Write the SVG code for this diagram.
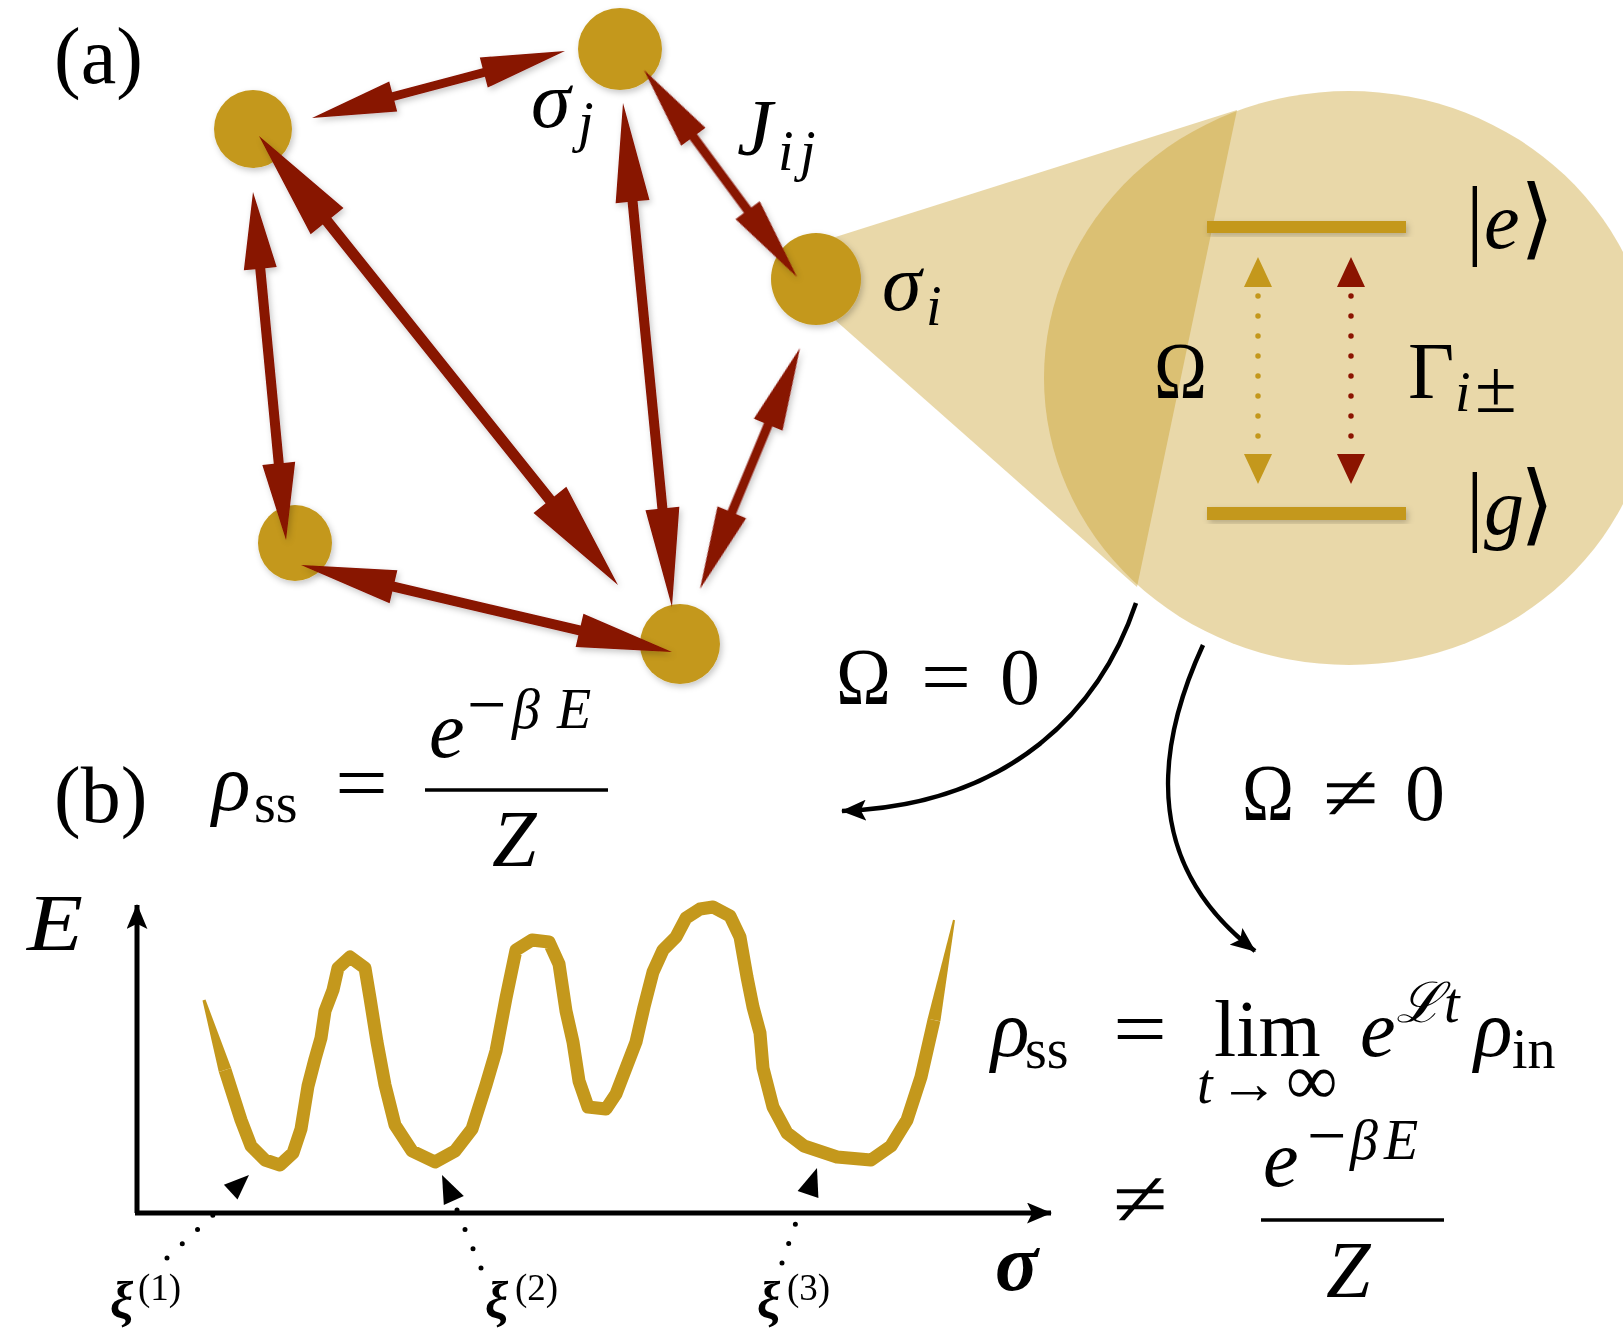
<svg xmlns="http://www.w3.org/2000/svg" width="1623" height="1333" viewBox="0 0 1623 1333">
<defs>
<style>
.t{font-family:"Liberation Serif","Times New Roman","DejaVu Serif",serif;font-size:80px;fill:#000}
.it{font-style:italic}
.sub{font-size:56px}
.bi{font-weight:bold;font-style:italic}
.node{fill:#C4981C}
.arrow{fill:#881200}
.gold{fill:#C4981C}
.line{stroke:#000;fill:none}
</style>
<filter id="sh" x="-30%" y="-30%" width="160%" height="160%">
<feDropShadow dx="2" dy="3" stdDeviation="3" flood-color="#000" flood-opacity="0.22"/>
</filter>
<marker id="ah" viewBox="0 0 24 20" markerWidth="25" markerHeight="21" refX="23" refY="10" orient="auto" markerUnits="userSpaceOnUse">
<path d="M0,0 L24,10 L0,20 L5,10 z" fill="#000"/>
</marker>
</defs>
<rect width="1623" height="1333" fill="#fff"/>

<!-- zoom cone and circle -->
<g id="zoom">
<polygon points="826,240 1237,110 1137,587 826,312" fill="#C4981C" fill-opacity="0.38"/>
<ellipse cx="1349" cy="378" rx="305" ry="287" fill="#C4981C" fill-opacity="0.38"/>
</g>

<!-- nodes -->
<g id="node-1" filter="url(#sh)"><ellipse class="node" cx="253" cy="129" rx="39" ry="39"/></g>
<g id="node-j" filter="url(#sh)"><ellipse class="node" cx="620" cy="49" rx="42" ry="41"/></g>
<g id="node-i" filter="url(#sh)"><ellipse class="node" cx="816" cy="279" rx="45" ry="46"/></g>
<g id="node-4" filter="url(#sh)"><ellipse class="node" cx="295" cy="543" rx="37" ry="38"/></g>
<g id="node-5" filter="url(#sh)"><ellipse class="node" cx="680" cy="644" rx="40" ry="40"/></g>

<!-- connectors -->
<g id="connectors" filter="url(#sh)">
<polygon class="arrow" transform="translate(312,118) rotate(-14.83)" points="0,0 84,-15.5 84,-4.5 177.7,-4.5 177.7,-15.5 261.7,0 177.7,15.5 177.7,4.5 84,4.5 84,15.5"/>
<polygon class="arrow" transform="translate(259,136) rotate(51.36)" points="0,0 109,-21 109,-5.5 465.9,-5.5 465.9,-21 574.9,0 465.9,21 465.9,5.5 109,5.5 109,21"/>
<polygon class="arrow" transform="translate(253,192) rotate(84.58)" points="0,0 77,-16.5 77,-5 272.6,-5 272.6,-16.5 349.6,0 272.6,16.5 272.6,5 77,5 77,16.5"/>
<polygon class="arrow" transform="translate(301,565) rotate(13.2)" points="0,0 95,-17 95,-5 286.1,-5 286.1,-17 381.1,0 286.1,17 286.1,5 95,5 95,17"/>
<polygon class="arrow" transform="translate(623,103) rotate(84.45)" points="0,0 99,-17 99,-5 407.4,-5 407.4,-17 506.4,0 407.4,17 407.4,5 99,5 99,17"/>
<polygon class="arrow" transform="translate(644,70) rotate(53.53)" points="0,0 83,-15 83,-4.5 174.4,-4.5 174.4,-15 257.4,0 174.4,15 174.4,4.5 83,4.5 83,15"/>
<polygon class="arrow" transform="translate(800,348) rotate(112.53)" points="0,0 83,-15.5 83,-4.5 177.9,-4.5 177.9,-15.5 260.9,0 177.9,15.5 177.9,4.5 83,4.5 83,15.5"/>
</g>

<!-- node labels -->
<g id="labels-a">
<text class="t" x="54" y="83">(a)</text>
<text class="t it" x="531" y="127">σ</text><text class="t it sub" x="578" y="141">j</text>
<text class="t it" x="737" y="155">J</text><text class="t it sub" x="778" y="170">i</text><text class="t it sub" x="800" y="170">j</text>
<text class="t it" x="882" y="310">σ</text><text class="t it sub" x="926" y="325">i</text>
</g>

<!-- two-level system -->
<g id="levels">
<rect class="gold" x="1207" y="221" width="199" height="12" filter="url(#sh)"/>
<rect class="gold" x="1207" y="507" width="199" height="13" filter="url(#sh)"/>
<g id="omega-arrow">
<polygon class="gold" points="1258,257 1244,287 1272,287"/>
<polygon class="gold" points="1258,484 1244,454 1272,454"/>
<line x1="1258" y1="296" x2="1258" y2="437" stroke="#C4981C" stroke-width="5.5" stroke-linecap="round" stroke-dasharray="0 20"/>
</g>
<g id="gamma-arrow">
<polygon fill="#8B1400" points="1351,257 1337,287 1365,287"/>
<polygon fill="#8B1400" points="1351,484 1337,454 1365,454"/>
<line x1="1351" y1="296" x2="1351" y2="437" stroke="#8B1400" stroke-width="5.5" stroke-linecap="round" stroke-dasharray="0 20"/>
</g>
<text class="t" x="1154" y="398" textLength="53" lengthAdjust="spacingAndGlyphs">Ω</text>
<text class="t" x="1408" y="398">Γ</text><text class="t it sub" x="1455" y="411">i</text><text class="t" x="1475" y="412" style="font-size:76px">±</text>
<text class="t" x="1466" y="248" style="font-size:88px">|</text><text class="t it" x="1484" y="248">e</text><text class="t" x="1520" y="248" style="font-size:88px">⟩</text>
<text class="t" x="1466" y="534" style="font-size:88px">|</text><text class="t it" x="1484" y="534">g</text><text class="t" x="1520" y="534" style="font-size:88px">⟩</text>
</g>

<!-- curved arrows -->
<g id="flow-arrows">
<path class="line" style="stroke-width:4.5px" d="M1136,603 C1100,710 1010,805 842,811" marker-end="url(#ah)"/>
<path class="line" style="stroke-width:4.5px" d="M1203,645 C1150,760 1150,870 1255,951" marker-end="url(#ah)"/>
</g>
<g id="cond-labels">
<text class="t" x="836" y="704" textLength="55" lengthAdjust="spacingAndGlyphs">Ω</text><text class="t" x="921" y="704" textLength="50" lengthAdjust="spacingAndGlyphs">=</text><text class="t" x="1000" y="704">0</text>
<text class="t" x="1242" y="820" textLength="52" lengthAdjust="spacingAndGlyphs">Ω</text><text class="t" x="1323" y="820" textLength="56" lengthAdjust="spacingAndGlyphs">≠</text><text class="t" x="1405" y="820">0</text>
</g>

<!-- (b) equation -->
<g id="eq-b">
<text class="t" x="54" y="822">(b)</text>
<text class="t it" x="212" y="810">ρ</text><text class="t sub" x="254" y="822">ss</text>
<text class="t" x="335" y="810" textLength="53" lengthAdjust="spacingAndGlyphs">=</text>
<text class="t it" x="429" y="757">e</text>
<text class="t" x="467" y="728" style="font-size:70px">−</text><text class="t it sub" x="512" y="728">β</text><text class="t it sub" x="557" y="728">E</text>
<line x1="425" y1="790" x2="608" y2="790" stroke="#000" stroke-width="3.5"/>
<text class="t it" x="492" y="866">Z</text>
</g>

<!-- energy landscape -->
<g id="plot">
<line class="line" style="stroke-width:5px" x1="137" y1="1213" x2="137" y2="905" marker-end="url(#ah)"/>
<line class="line" style="stroke-width:5px" x1="135" y1="1213" x2="1051" y2="1213" marker-end="url(#ah)"/>
<text class="t it" x="27" y="950" textLength="56" lengthAdjust="spacingAndGlyphs">E</text>
<text class="t bi" x="995" y="1290">σ</text>
<polygon class="gold" points="202.5,1000.5 205.5,999.5 231.2,1068.1 218.8,1071.9"/>
<polyline fill="none" stroke="#C4981C" stroke-width="13" stroke-linejoin="round" points="225,1070 241,1120 251,1146 265,1160 280,1165 293,1153 301,1129 308,1086 315,1059 321,1038 325,1011 333,990 338,968 350,957 365,968 370,998 377,1042 385,1085 395,1125 412,1151 435,1162 455,1151 472,1129 486,1085 496,1051 506,998 516,950 532,940 549,942 559,964 566,1011 573,1042 579,1081 588,1107 606,1109 616,1094 626,1068 636,1042 644,1007 653,972 663,950 676,937 686,918 700,909 713,907 730,916 740,937 747,977 753,1007 760,1033 763,1068 773,1107 787,1133 804,1146 837,1157 871,1160 891,1146 907,1120 921,1077 934,1020"/>
<polygon class="gold" points="940.4,1021.3 955,920.2 953,919.8 927.6,1018.7"/>
<g id="xi-1">
<line x1="167" y1="1258" x2="228" y2="1201" stroke="#000" stroke-width="5" stroke-linecap="round" stroke-dasharray="0 20.9"/>
<polygon points="249,1175 237.5,1199.4 223.9,1184.8" fill="#000"/>
<text class="t bi" x="110" y="1318" style="font-size:52px">ξ</text><text class="t" x="138" y="1300" style="font-size:37px">(1)</text>
</g>
<g id="xi-2">
<line x1="481" y1="1268" x2="457" y2="1210" stroke="#000" stroke-width="5" stroke-linecap="round" stroke-dasharray="0 20.9"/>
<polygon points="442,1175 463.8,1195.9 443.8,1205.1" fill="#000"/>
<text class="t bi" x="485" y="1318" style="font-size:52px">ξ</text><text class="t" x="515" y="1300" style="font-size:37px">(2)</text>
</g>
<g id="xi-3">
<line x1="782" y1="1263" x2="802" y2="1205" stroke="#000" stroke-width="5" stroke-linecap="round" stroke-dasharray="0 20.5"/>
<polygon points="817,1168 818.4,1198.1 797.6,1190.9" fill="#000"/>
<text class="t bi" x="757" y="1318" style="font-size:52px">ξ</text><text class="t" x="787" y="1300" style="font-size:37px">(3)</text>
</g>
</g>

<!-- non-equilibrium equation -->
<g id="eq-ne">
<text class="t it" x="991" y="1056">ρ</text><text class="t sub" x="1025" y="1068">ss</text>
<text class="t" x="1113" y="1056" textLength="54" lengthAdjust="spacingAndGlyphs">=</text>
<text class="t" x="1214" y="1056">lim</text>
<text class="t it sub" x="1197" y="1103">t</text><text class="t" x="1219" y="1103" style="font-size:60px">→</text><text class="t" x="1286" y="1104" style="font-size:72px">∞</text>
<text class="t it" x="1360" y="1056">e</text>
<text class="t it sub" x="1396" y="1022">ℒ</text><text class="t it sub" x="1444" y="1022">t</text>
<text class="t it" x="1474" y="1056">ρ</text><text class="t sub" x="1512" y="1068">in</text>
<text class="t" x="1113" y="1226" textLength="55" lengthAdjust="spacingAndGlyphs">≠</text>
<text class="t it" x="1263" y="1186">e</text>
<text class="t" x="1307" y="1159" style="font-size:70px">−</text><text class="t it sub" x="1350" y="1159">β</text><text class="t it sub" x="1384" y="1159">E</text>
<line x1="1261" y1="1220" x2="1444" y2="1220" stroke="#000" stroke-width="3.5"/>
<text class="t it" x="1326" y="1297">Z</text>
</g>
</svg>
